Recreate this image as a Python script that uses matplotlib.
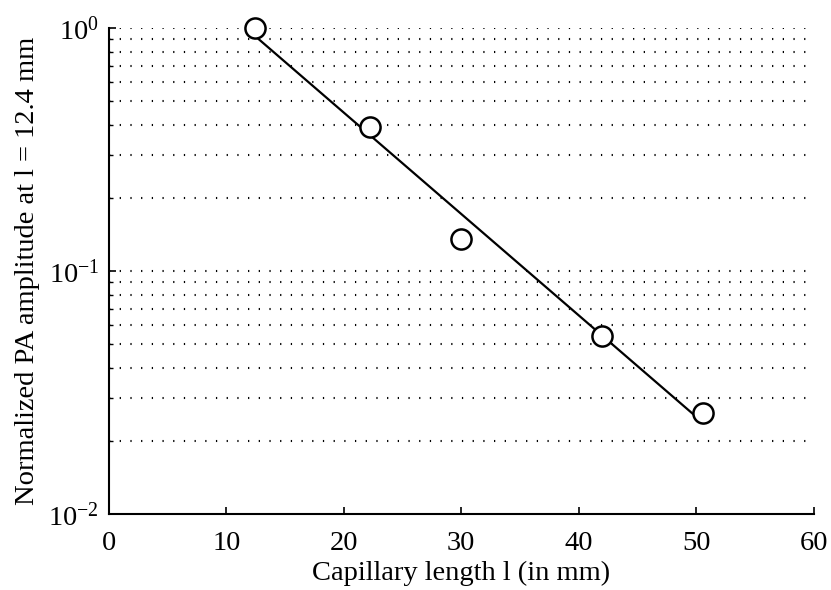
import numpy as np
import matplotlib
matplotlib.use("Agg")
import matplotlib.pyplot as plt
from matplotlib.ticker import LogLocator

plt.rcParams["font.family"] = ["Liberation Serif", "DejaVu Serif"]
plt.rcParams["mathtext.fontset"] = "custom"
plt.rcParams["mathtext.rm"] = "Liberation Serif"
plt.rcParams["mathtext.it"] = "Liberation Serif:italic"
plt.rcParams["lines.scale_dashes"] = False

# Measured capillary lengths (mm) and normalized photoacoustic amplitude
length_mm = [12.4, 22.2, 30.0, 42.0, 50.6]
amplitude = [1.0, 0.394, 0.1355, 0.0542, 0.0260]

x_ticks = [0, 10, 20, 30, 40, 50, 60]

fig = plt.figure(figsize=(8.31, 5.90), dpi=100)
ax = fig.add_axes([0.1312, 0.1288, 0.979 - 0.1312, 0.952 - 0.1288])

# Exponential fit (straight line on the log axis)
x = np.array(length_mm)
slope, intercept = np.polyfit(x, np.log10(amplitude), 1)
fit_x = np.array([x.min(), x.max()])
fit_y = 10 ** (intercept + slope * fit_x)

ax.set_yscale("log")
ax.set_xlim(0, 60)
ax.set_ylim(1e-2, 1e0)

# dotted horizontal grid at minor and major decades above 10^-2
grid_vals = [v * d for d in (0.01, 0.1) for v in range(2, 11)]
for g in grid_vals:
    ax.axhline(g, color="black", lw=1.5, linestyle=(0, (0.9, 6.8)), zorder=1)

ax.plot(fit_x, fit_y, color="black", lw=1.6, zorder=2)
ax.plot(x, amplitude, linestyle="none", marker="o", markersize=14.5,
        markerfacecolor="white", markeredgecolor="black",
        markeredgewidth=1.8, zorder=3, clip_on=False)

ax.set_xticks(x_ticks)
ax.yaxis.set_major_locator(LogLocator(base=10, numticks=5))
ax.yaxis.set_minor_locator(LogLocator(base=10, subs=np.arange(2, 10), numticks=20))

for side in ("top", "right"):
    ax.spines[side].set_visible(False)
for side in ("left", "bottom"):
    ax.spines[side].set_linewidth(1.5)

ax.tick_params(axis="both", which="major", direction="in", length=5,
               width=1.2, labelsize=20.5)
ax.tick_params(axis="x", which="major", pad=12)
ax.tick_params(axis="y", which="major", pad=7)
ax.tick_params(axis="y", which="minor", direction="in", length=3, width=1.0)
ax.tick_params(axis="y", which="minor", labelleft=False)

ax.set_xlabel("Capillary length l (in mm)", fontsize=20.5, labelpad=4)
ax.set_ylabel("Normalized PA amplitude at l = 12.4 mm", fontsize=20.5, labelpad=6)

fig.savefig("out.png", dpi=100)
